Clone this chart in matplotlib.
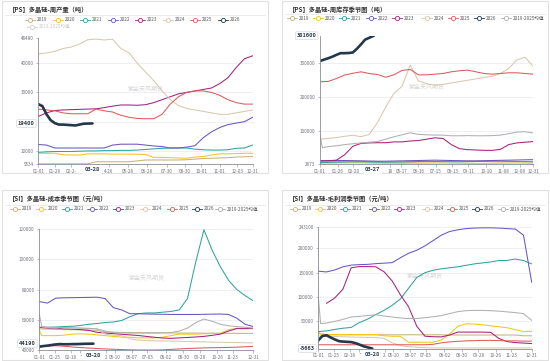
import numpy as np
import matplotlib.pyplot as plt
from matplotlib.patches import Rectangle

plt.rcParams['font.family'] = ['Noto Sans CJK SC', 'DejaVu Sans']

# ---- data (x = day of year) ----
days = list(range(0, 365, 14))
spike_days = [0, 4] + days[1:]
wk_days = [0, 7, 14, 21, 28, 35, 42, 49, 56, 63, 70, 77, 92]
nan = np.nan

years = ['2019', '2020', '2021', '2022', '2023', '2024', '2025', '2026']
avg_name = '2019-2025均值'
colors = ['#c9b27c', '#f5c518', '#2fa3a0', '#6a55c2', '#a3227f', '#d8c8ad', '#e05a5a', '#22384b']
avg_color = '#b0b0b0'

# PS weekly production (t)
prod_2019 = [5600, 5600, 5600, 5600, 5600, 5600, 5600, 6300, 6300, 6300, 6300, 6300, 6600, 6900,
             6900, 6900, 6900, 6900, 7000, 7200, 7400, 7500, 7600, 7700, 7900, 8000, 8100]
prod_2020 = [9200, 9200, 9200, 8700, 8600, 8600, 9000, 9000, 9000, 8900, 8900, 8900, 8900, 8800,
             7800, 7800, 7700, 7600, 7500, 7900, 8100, 8600, 9000, 9000, 9100, 9200, 9200]
prod_2021 = [9500, 9700, 9800, 9800, 9800, 9900, 10000, 10000, 10100, 10100, 10200, 10200, 10300, 10500,
             10700, 10900, 11000, 11000, 11000, 10600, 10400, 10300, 10300, 10400, 10900, 11000, 12000]
prod_2022 = [12200, 12000, 11000, 11000, 11000, 11000, 11000, 11000, 11000, 12000, 12300, 12300, 12300, 12000,
             11700, 11500, 11000, 11000, 11300, 11800, 14500, 16500, 18000, 19000, 19500, 20000, 21500]
prod_2023 = [21800, 23000, 23800, 24000, 24100, 24200, 24300, 24400, 24800, 25300, 25700, 25700, 25600, 25800,
             26500, 27500, 28500, 29500, 30000, 30500, 31000, 31500, 33000, 35000, 38500, 41500, 42500]
prod_2024 = [43100, 43500, 44000, 45000, 45500, 46500, 48000, 48200, 47900, 48200, 45000, 43500, 40000, 37000,
             34000, 30500, 27500, 25500, 24500, 24000, 23500, 23000, 22500, 22500, 23000, 23500, 24000]
prod_2025 = [24300, 24000, 23700, 23000, 22700, 22700, 22700, 24300, 23700, 23300, 22200, 21500, 21100, 21000,
             21000, 22500, 26000, 28500, 30000, 30500, 30500, 30000, 29000, 27500, 26500, 26000, 26000]
prod_2026 = [26000, 25300, 22500, 20500, 19500, 19000, 19000, 18900, 18800, 18700, 19000, 19300, 19400]

# PS weekly inventory (t)
inv_2019 = [9000, 9500, 10000, 10500, 11000, 10500, 10000, 9500, 9000, 8500, 8000, 8000, 8500, 9000,
            9500, 10000, 10500, 11000, 11000, 10500, 10000, 9500, 9000, 9000, 9500, 10000, 10000]
inv_2020 = [5000, 5200, 5500, 5800, 6000, 5800, 5500, 5000, 4800, 4500, 4500, 4800, 5000, 5200,
            5500, 5500, 5200, 5000, 4800, 4500, 4500, 4800, 5000, 5200, 5500, 5200, 5000]
inv_2021 = [7000, 7500, 8000, 8500, 9000, 9000, 8500, 8000, 8000, 8500, 9000, 9500, 10000, 10500,
            10000, 9500, 9000, 9000, 9500, 10000, 10500, 11000, 11000, 10500, 10000, 9500, 9000]
inv_2022 = [12000, 12500, 13000, 13000, 12500, 12000, 11500, 11000, 11000, 11500, 12000, 12500, 13000, 13500,
            14000, 13500, 13000, 12500, 12000, 12000, 12500, 13000, 13500, 14000, 14500, 15000, 15500]
inv_2023 = [12000, 12500, 14000, 30000, 55000, 63500, 65000, 65500, 65500, 68000, 68000, 70500, 72000, 76000,
            80000, 78000, 60000, 48000, 45000, 44000, 43000, 43000, 46000, 60000, 65000, 67000, 69000]
inv_2024 = [75600, 78500, 80500, 84500, 87500, 83500, 90000, 125000, 170000, 211000, 232000, 295000, 248000,
            240000, 235000, 238000, 242000, 246000, 250000, 254000, 258000, 262000, 270000, 285000, 310000,
            318000, 290000]
inv_2025 = [245700, 246500, 255000, 265500, 270500, 275000, 270000, 267000, 259000, 266000, 279000, 282000,
            266000, 266000, 268000, 270000, 275000, 278000, 280000, 275000, 270000, 268000, 270000, 272000,
            272000, 270000, 268000]
inv_2026 = [307000, 311000, 315000, 319500, 325000, 330000, 330000, 330500, 332000, 343000, 356000, 370000, 381600]
inv_avg = [88000, 51000, 54000, 56500, 60000, 62500, 65000, 67000, 69000, 76000, 83000, 89000, 95000, 90000,
           89000, 88000, 88000, 86000, 86000, 86500, 86000, 86000, 86500, 88000, 92000, 97000, 98000, 94000]

# SI cost (yuan/t)
cost_2019 = [54000, 53800, 53600, 53500, 53400, 53300, 53200, 53000, 52000, 51800, 51600, 51500, 51500, 51400,
             51400, 51300, 51300, 51200, 51200, 51200, 51100, 51100, 51000, 51000, 51000, 51000, 51000]
cost_2020 = [53000, 49500, 49500, 49500, 49800, 50500, 50700, 50500, 50000, 49500, 49000, 48500, 48500, 48000,
             48000, 48000, 48500, 49500, 50500, 50500, 50500, 50700, 51000, 51000, 53500, 54000, 54000, 54000]
cost_2021 = [55000, 55000, 55200, 55500, 55700, 56200, 57000, 57500, 58200, 58500, 59500, 62000, 64000, 64500,
             64500, 65000, 65500, 66500, 74000, 98000, 119500, 106000, 95000, 86000, 80000, 76000, 72500]
cost_2022 = [72000, 71000, 74300, 74500, 74600, 74700, 74800, 74900, 74000, 68000, 66500, 64000, 64000, 63800,
             63700, 63600, 63500, 63500, 63500, 63500, 63600, 63700, 63800, 63500, 61000, 57000, 55500]
cost_2023 = [55000, 54500, 54500, 54000, 53800, 53500, 53000, 51700, 51200, 50800, 50400, 50000, 49600, 49000,
             48400, 47900, 47700, 48000, 48300, 48600, 49000, 49700, 50500, 52500, 54300, 54300, 54300]
cost_2024 = [55500, 55000, 54800, 54600, 54500, 54400, 54300, 54000, 50500, 49800, 49500, 47500, 46500, 46300,
             46100, 46000, 45900, 45800, 45600, 45500, 45400, 45200, 45100, 45000, 44900, 44800, 44700]
cost_2025 = [42500, 42700, 42800, 42500, 42000, 41600, 41300, 41000, 40700, 40500, 40300, 40100, 40000, 40000,
             40000, 40100, 40400, 40700, 41000, 41200, 41400, 41500, 41600, 41700, 41900, 42100, 42400]
cost_2026 = [42200, 42600, 42900, 43300, 43700, 43900, 43800, 43800, 43900, 43900, 44000, 44100, 44190]
cost_avg = [64000, 55500, 55000, 55000, 54800, 54700, 54500, 54300, 54000, 52500, 51500, 51300, 51200, 51200,
            51200, 51200, 51300, 51500, 52500, 54500, 58000, 60500, 59000, 57000, 56000, 55500, 55000, 54500]

# SI gross profit (yuan/t)
profit_2019 = [25000, 23000, 22500, 22500, 22500, 22500, 22500, 22500, 22500, 22500, 22500, 22500, 22500, 22500,
               22500, 22500, 22000, 22000, 22000, 22000, 22000, 22000, 22000, 22000, 22000, 20500, 20500]
profit_2020 = [29600, 22900, 22900, 22900, 22900, 22900, 22900, 22900, 22900, 20500, 19400, 19400, 7200, 7200,
               7200, 7200, 12000, 24000, 40000, 45000, 44500, 43000, 41000, 39000, 37000, 33000, 29000, 29600]
profit_2021 = [29000, 30500, 33500, 36000, 37500, 47500, 54500, 64000, 72500, 83000, 96000, 118000, 140000,
               150000, 155000, 158000, 160000, 162000, 165000, 168000, 170000, 172000, 175000, 175000, 178000,
               175000, 168000]
profit_2022 = [153000, 151500, 155500, 162000, 165500, 166500, 167000, 168500, 169500, 170600, 180500, 189800,
               196000, 205000, 216000, 227000, 234500, 238000, 240500, 241500, 242000, 242000, 241500, 240500,
               239500, 227000, 130000]
profit_2023 = [nan, 87000, 98000, 116000, 160000, 162500, 162500, 162000, 152000, 133000, 104600, 80000, 40000,
               19500, 18500, 18200, 22000, 28000, 28000, 28000, 28000, 27500, 15000, 8500, 6500, 5500, 4500]
profit_2024 = [20000, 19500, 19000, 18500, 18000, 17500, 17000, 16500, 15500, 6000, 0, -2000, -3000, -4000,
               -4500, -4500, -4500, -4500, -4500, -4500, -4500, -4500, -4500, -4500, -4500, -4500, -4500]
profit_2025 = [2000, 2000, 2000, 2000, 2000, 2000, 2000, 2000, 2000, 2000, 2000, 2000, 2000, 2000,
               3000, 6000, 8000, 9000, 10000, 10500, 11000, 11000, 10500, 10000, 10000, 9500, 9500]
profit_2026 = [11000, 20000, 21500, 17000, 13000, 9500, 8500, 8000, 7500, 5500, 2500, -1000, -5663]
profit_avg = [101000, 45500, 46500, 50000, 54000, 59000, 60300, 62000, 63500, 61000, 59000, 57000, 55800, 56000,
              57500, 59500, 62000, 66000, 70000, 72000, 72500, 72500, 72000, 71000, 69500, 68000, 66000, 52000]

# axis labels
top_left_xticks = [0, 28, 56, 120, 152, 184, 218, 249, 277, 308, 338, 364]
top_left_xlabels = ['01-01', '01-28', '02-2-', '4-26', '05-28', '06-28', '07-30', '08-30', '10-01',
                    '11-01', '12-03', '12-31']
top_right_xticks = [0, 31, 57, 119, 139, 168, 198, 226, 253, 284, 313, 341, 364]
top_right_xlabels = ['01-01', '01-26', '02-20', '18', '05-17', '06-16', '07-15', '08-13', '09-11', '10-10',
                     '11-08', '12-08', '12-31']
bottom_xticks = [0, 27, 54, 70, 113, 128, 157, 184, 215, 245, 273, 303, 329, 364]
bottom_xlabels = ['01-01', '01-25', '02-18', '·', '2', '05-10', '06-07', '07-05', '08-02', '08-30', '09-28',
                  '10-26', '11-23', '12-31']

# ---- figure ----
W, H = 550, 361
fig = plt.figure(figsize=(5.5, 3.61), dpi=100)
bg = fig.add_axes([0, 0, 1, 1])
bg.set_xlim(0, W)
bg.set_ylim(H, 0)
bg.axis('off')

AXC = '#8a8d96'
LBL = '#6e7079'
GRID = '#e6e9f0'


def px_axes(x0, y0, x1, y1):
    ax = fig.add_axes([x0 / W, 1 - y1 / H, (x1 - x0) / W, (y1 - y0) / H])
    ax.set_facecolor('none')
    return ax


def card(x0, y0, x1, y1, title, sep_y):
    bg.add_patch(Rectangle((x0, y0), x1 - x0, y1 - y0, fc='white', ec='#e0e0e0', lw=0.8))
    bg.text(x0 + 7, y0 + 8.5, title, fontsize=4.5, weight='bold', color='#333333', va='center')
    bg.plot([x0 + 3, x1 - 3], [sep_y, sep_y], color='#e8e8e8', lw=0.6)


def legend_row(names, cols, xs, y, off=()):
    for name, c, x in zip(names, cols, xs):
        tc = '#555555'
        if name in off:
            c, tc = '#d0d0d0', '#c8c8c8'
        bg.plot([x, x + 10], [y, y], color=c, lw=0.6)
        bg.plot(x + 5, y, 'o', ms=3, mfc='white', mec=c, mew=0.6)
        bg.text(x + 12, y, name, fontsize=3.3, color=tc, va='center')


def panel(ax, lines, ylim, yticks, grid, cur, xt, xl, ptr_day, ptr_text):
    for g in grid:
        ax.axhline(g, color=GRID, lw=0.5, zorder=0)
    for x, y, c, lw in lines:
        ax.plot(x, y, color=c, lw=lw, solid_joinstyle='round', solid_capstyle='round')
    ax.set_xlim(0, 364)
    ax.set_ylim(*ylim)
    for s in ['top', 'right']:
        ax.spines[s].set_visible(False)
    for s in ['left', 'bottom']:
        ax.spines[s].set_color(AXC)
        ax.spines[s].set_linewidth(0.6)
    ax.set_yticks(yticks)
    ax.set_yticklabels([str(v) for v in yticks])
    ax.set_xticks(xt)
    ax.set_xticklabels(xl)
    ax.tick_params(axis='both', length=1.8, width=0.4, color=AXC, labelsize=3.3,
                   labelcolor=LBL, pad=1.5)
    ax.annotate(str(cur), xy=(0, cur), xycoords=('axes fraction', 'data'),
                xytext=(-2.5, 0), textcoords='offset points', ha='right', va='center',
                fontsize=4.0, weight='bold', color='#2b3a4a', annotation_clip=False, zorder=10,
                bbox=dict(boxstyle='round,pad=0.25', fc='white', ec='#cfcfcf', lw=0.4))
    ax.annotate(ptr_text, xy=(ptr_day, 0), xycoords=('data', 'axes fraction'),
                xytext=(0, -4.3), textcoords='offset points', ha='center', va='center',
                fontsize=4.0, weight='bold', color='#2b3a4a', annotation_clip=False, zorder=10,
                bbox=dict(boxstyle='round,pad=0.25', fc='white', ec='white', lw=0.4))
    ax.text(0.5, 0.6, '紫金天风期货', transform=ax.transAxes, ha='center', va='center',
            fontsize=4.3, color='#d6d6d6', zorder=0)


def build(vals, avg=None):
    out = []
    for i, v in enumerate(vals):
        if i == 7:
            continue
        xs = spike_days if len(v) == len(spike_days) else days
        out.append((xs, v, colors[i], 0.75))
    if avg is not None:
        out.append((spike_days if len(avg) == len(spike_days) else days, avg, avg_color, 0.75))
    out.append((wk_days, vals[7], colors[7], 1.9))
    return out


legend_names = years + [avg_name]
legend_cols = colors + [avg_color]

# top-left: production
card(2, 1, 268, 173, '【PS】多晶硅-周产量（吨）', 15)
legend_row(years, colors, [25 + 27.5 * i for i in range(8)], 19.5)
legend_row([avg_name], [avg_color], [26.5], 26.7, off=(avg_name,))
ax1 = px_axes(38.3, 38.3, 252.7, 164)
panel(ax1, build([prod_2019, prod_2020, prod_2021, prod_2022, prod_2023, prod_2024, prod_2025, prod_2026]),
      (5534, 48480), [5534, 10000, 30000, 40000, 48480], [10000, 20000, 30000, 40000], 19400,
      top_left_xticks, top_left_xlabels, 91, '03-28')

# top-right: inventory
card(282, 1, 548, 173, '【PS】多晶硅-周库存季节图（吨）', 14)
legend_row(legend_names, legend_cols, [286.7, 313.3, 339, 365.7, 391.7, 421.7, 447.7, 474.3, 501], 18.3)
ax2 = px_axes(320, 35.7, 533.3, 164)
panel(ax2, build([inv_2019, inv_2020, inv_2021, inv_2022, inv_2023, inv_2024, inv_2025, inv_2026], inv_avg),
      (2673, 381600), [2673, 100000, 200000, 300000], [100000, 200000, 300000], 381600,
      top_right_xticks, top_right_xlabels, 90, '03-27')

# bottom-left: cost
card(2, 190, 268, 360, '【SI】多晶硅-成本季节图（元/吨）', 204.5)
legend_row(legend_names, legend_cols, [10, 36, 61.7, 87.3, 113.3, 140, 166.7, 191.7, 215], 209)
ax3 = px_axes(39.3, 229, 253.3, 350)
panel(ax3, build([cost_2019, cost_2020, cost_2021, cost_2022, cost_2023, cost_2024, cost_2025, cost_2026], cost_avg),
      (40000, 120000), [40000, 60000, 80000, 100000, 120000], [60000, 80000, 100000, 120000], 44190,
      bottom_xticks, bottom_xlabels, 92, '03-28')

# bottom-right: gross profit
card(282, 190, 548, 360, '【SI】多晶硅-毛利润季节图（元/吨）', 204.5)
legend_row(legend_names, legend_cols, [290, 315, 340, 369, 394.3, 421.7, 446.7, 471.7, 497.7], 209)
ax4 = px_axes(318.3, 227.3, 531.7, 348.5)
panel(ax4, build([profit_2019, profit_2020, profit_2021, profit_2022, profit_2023, profit_2024, profit_2025,
                  profit_2026], profit_avg),
      (-5663, 243100), [50000, 100000, 150000, 200000, 243100], [50000, 100000, 150000, 200000, 243100], -5663,
      bottom_xticks, bottom_xlabels, 92, '03-28')

fig.savefig('out.png', dpi=100, facecolor='white')
